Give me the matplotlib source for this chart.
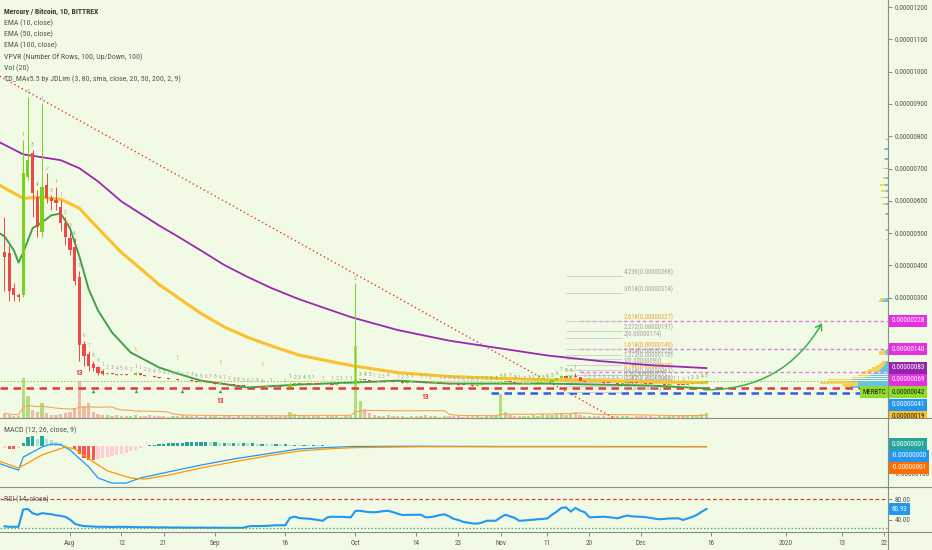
"""Mercury / Bitcoin daily chart in the TradingView look, rebuilt with matplotlib."""

import matplotlib

matplotlib.use("Agg")
import matplotlib.dates as mdates
import matplotlib.pyplot as plt
import numpy as np
import pandas as pd
from matplotlib import font_manager
from matplotlib.lines import Line2D
from matplotlib.patches import FancyArrowPatch
from matplotlib.transforms import Bbox, TransformedBbox, blended_transform_factory

SAT = 1e-8  # every price below is in satoshi

# ---------------- data ----------------
first_day = "2019-07-18"

early_open = [443, 437, 329, 307, 307, 673, 747, 611, 502, 648, 608, 602, 580, 530, 484, 456, 363, 158, 127, 96, 84, 74]
early_high = [549, 462, 344, 316, 788, 921, 757, 633, 902, 685, 617, 642, 602, 549, 508, 484, 384, 167, 136, 105, 90, 78]
early_low = [322, 291, 291, 291, 301, 664, 549, 487, 487, 592, 571, 571, 508, 462, 431, 338, 105, 90, 74, 74, 62, 60]
early_close = [425, 322, 307, 301, 685, 726, 623, 518, 642, 608, 598, 592, 530, 487, 447, 353, 152, 121, 90, 81, 68, 65]

late_close = [
    66, 63, 62, 64, 60, 61, 66, 62, 58, 56, 55, 52,
    50, 47, 49, 45, 44, 46, 42, 40, 41, 38, 39,
    34, 35, 32, 31, 30, 28, 27, 26, 27, 25,
    24, 26, 23, 25, 24, 23,
    32, 36, 34, 35, 33, 35, 34, 32, 33, 31, 33, 34, 32, 33,
    44, 47, 45, 43, 40, 41, 39, 42, 40, 38,
    37, 39, 41, 38, 40, 37, 36, 38, 35, 36,
    34, 33, 31, 30, 29, 28, 30, 32, 33, 32, 33,
    40, 42, 38, 35, 33, 34, 35, 36, 37, 38,
    39, 44, 50, 58, 52, 57, 54, 42, 38, 39,
    38, 39, 37, 36, 35, 34, 36, 38, 37, 36,
    35, 34, 33, 32, 33, 31, 32, 33, 31, 30, 33, 35, 37, 40, 42,
]
big_wicks = {"2019-10-01": 344, "2019-09-17": 40, "2019-11-14": 62, "2019-11-17": 68, "2019-08-15": 70}

volume = [
    4, 3, 2, 2,
    40, 22, 8, 6, 15,
    5, 3, 3, 4, 5, 6,
    10, 37, 12, 15, 6, 4, 3,
    3, 2, 3, 2, 2, 2, 3, 2, 2, 3, 2, 2, 2, 1, 2, 2, 3, 2, 2, 2, 1, 2, 2,
    2, 1, 2, 2, 1, 2, 2, 1, 2, 2, 1, 2, 2, 1, 2, 2,
    6, 4, 2, 2, 3, 2, 2, 1, 2, 2, 2, 1, 2, 2,
    72, 17, 9, 5, 3,
    2, 2, 3, 2, 2, 2, 1, 2, 2, 2, 3, 2, 2, 1, 2, 2, 2, 2, 1, 2, 2, 2, 1, 2, 2, 3,
    24, 6, 3, 2, 2, 2, 2, 3, 2, 4, 3, 3, 4, 5, 3, 4, 6, 3, 2, 2,
    2, 2, 2, 1, 2, 2, 2, 2, 1, 2, 2, 2, 2, 1, 2, 2, 2, 2, 2, 2, 3, 3, 3, 4, 5,
]

rsi = [
    28, 27, 27, 27, 60, 61, 53, 50, 53, 52, 51, 49, 48, 46, 41, 33, 30, 28.5, 28, 27.5, 27, 27,
    27, 26.5, 27, 26.8, 27, 26.5, 26.5, 26.3,
    26, 26.3, 26, 25.8, 26, 25.7, 25.5, 25.8, 25.5, 25.6,
    25.5, 25.4, 25.7, 25.3, 25.2, 25.5, 25.1, 25.3, 25, 25.2,
    25, 25.3, 27.5, 28.6, 28.3, 28.5, 28.8, 29.5, 30, 29.8,
    30, 44, 46.5, 43.5, 43, 42.5, 41.3, 40, 38.5, 45,
    46.3, 46, 46, 45.5, 45, 57.5, 57.5, 56, 55, 54.7,
    55.5, 57, 57.5, 55, 52, 49.5, 49.7, 50, 50, 50,
    45, 45.5, 47, 49.5, 50.9, 47, 42, 40, 36.5, 35,
    33.5, 33, 35, 38.5, 38.7, 38.7, 45, 50, 47, 44,
    38.5, 39, 40, 40.5, 41.5, 42, 43, 50, 56, 63,
    64, 56, 63, 58, 54.7, 45, 45.5, 46, 46.3, 45.5,
    44.5, 43.2, 46, 48.5, 47, 46.5, 46, 45.5, 44, 42.5,
    41.3, 42, 43, 43, 43.2, 40, 43, 46, 50, 56, 60.93,
]

macd_hist = [
    -6, -8, -9, -7,
    12, 36, 38, 30, 38,
    30, 24, 18, 12, 7, 2,
    -10, -28, -42, -50, -52,
    -49, -45, -41, -37, -33, -28, -23, -18, -12, -6,
    2, 4, 6, 8, 10, 12, 13, 14, 15, 16,
    16, 16, 17, 17, 16, 16,
    15, 15, 14, 14, 13, 13, 12, 12, 11, 11, 10, 9, 9, 8, 8, 7, 7, 6, 6, 5,
    5, 4, 4, 3, 3, 3, 2, 2, 2, 2, 3, 3, 2, 2, 2,
    2, 2, 1.5, 1.5, 1, 1, 1, 1, 1, 1,
    1, 1.5, 1.5, 1, 1, 1, 0.5, 0.5, 0.5, 1,
    1, 1, 1, 1.5, 1.5, 1, 1, 1, 1, 1,
    1.5, 2, 2, 1.5, 1, 1, 1, 1, 0.5, 0.5,
    0.5, 0.5, 1, 1, 1.5, 1.5, 2, 1.5, 1, 1,
    1, 1, 0.5, 0.5, 0.5, 0.5, 0.5, 0.5, 0.5, 0.5,
    0.5, 0.5, 0.5, 0.5, 0.5, 0.5, 1, 1, 1, 1,
]

macd_dates = ["2019-07-17", "2019-07-21", "2019-07-22", "2019-07-24", "2019-07-26", "2019-07-28",
              "2019-07-30", "2019-08-01", "2019-08-05", "2019-08-07", "2019-08-10", "2019-08-13",
              "2019-08-16", "2019-08-22", "2019-08-29", "2019-09-05", "2019-09-12", "2019-09-19",
              "2019-09-26", "2019-10-01", "2019-10-15", "2019-11-01", "2019-11-20", "2019-12-15"]
macd_line = [-65, -89, -40, -21, -2, 9, 7, -13, -77, -119, -138, -138, -119, -96, -70, -47, -28, -9,
             -3, 0, 1, 0, 0, -0.4]
signal_dates = ["2019-07-17", "2019-07-21", "2019-07-23", "2019-07-26", "2019-07-31", "2019-08-02",
                "2019-08-06", "2019-08-09", "2019-08-14", "2019-08-17", "2019-08-22", "2019-08-29",
                "2019-09-05", "2019-09-12", "2019-09-19", "2019-09-26", "2019-10-01", "2019-10-15",
                "2019-11-15", "2019-12-15"]
signal_line = [-56, -81, -62, -32, -2, -9, -58, -92, -119, -123, -108, -81, -58, -36, -17, -8, -4, -1, -1, -1]

ema_dates = ["2019-07-17", "2019-07-22", "2019-07-26", "2019-07-30", "2019-08-03", "2019-08-07",
             "2019-08-12", "2019-08-16", "2019-08-20", "2019-08-24", "2019-08-29", "2019-09-03",
             "2019-09-08", "2019-09-13", "2019-09-19", "2019-09-30", "2019-10-10", "2019-10-21",
             "2019-11-01", "2019-11-11", "2019-11-22", "2019-12-03", "2019-12-15"]
ema100 = [781, 744, 735, 726, 701, 660, 598, 561, 524, 490, 446, 401, 364, 330, 295, 240, 200, 167,
          143, 121, 104, 91, 82]
ema50 = [648, 608, 611, 605, 577, 515, 440, 391, 341, 301, 251, 209, 177, 151, 122, 90, 68, 56,
         50, 46, 43, 40, 37]
ema10_dates = ["2019-07-17", "2019-07-18", "2019-07-20", "2019-07-21", "2019-07-22", "2019-07-24",
               "2019-07-26", "2019-07-28", "2019-07-30", "2019-08-01", "2019-08-03", "2019-08-05",
               "2019-08-07", "2019-08-10", "2019-08-14", "2019-08-16", "2019-08-20", "2019-08-24",
               "2019-08-29", "2019-09-08", "2019-09-19", "2019-09-30", "2019-10-10", "2019-10-21",
               "2019-11-01", "2019-11-11", "2019-11-22", "2019-12-03", "2019-12-15"]
ema10 = [499, 490, 447, 409, 440, 515, 533, 555, 561, 515, 428, 326, 260, 192, 130, 115, 84, 65, 43,
         22, 31, 37, 43, 34, 34, 34, 31, 28, 19]

# volume profile rows: price, up volume, down volume
vp_price = [23, 29, 35, 41, 47, 53, 59, 65, 71, 77, 83, 89, 95, 101, 125, 131, 137, 290, 296, 480,
            510, 560, 590, 610, 630, 650, 670, 700, 730, 760, 790]
vp_up = [38, 30, 30, 38, 36, 22, 18, 14, 10, 8, 6, 4, 3, 2, 2, 3, 2, 6, 3, 0,
         1, 2, 2, 3, 2, 3, 2, 3, 3, 3, 2]
vp_down = [6, 16, 38, 22, 24, 14, 12, 14, 14, 12, 10, 8, 6, 4, 7, 6, 4, 3, 5, 2,
           2, 1, 3, 4, 5, 5, 3, 2, 1, 1, 1]

fib_ratios = ["4.236", "3.618", "2.618", "2.272", "2", "1.618", "1.414", "1.272", "1", "0.786",
              "0.618", "0.5", "0.382", "0.236", "0"]
fib_prices = [368, 314, 227, 197, 174, 140, 122, 110, 93, 75, 61, 51, 40, 28, 8]
fib_hot = ["2.618", "1.618", "0.786"]
fib_span = ["2019-11-15", "2019-11-27"]

magenta_levels = [228, 140, 69]
magenta_start = "2019-11-18"
red_support = 21
blue_support = 6
blue_start = "2019-10-30"
trend_dates = ["2019-07-17", "2019-11-25"]
trend_prices = [986, -71]
arrow_dates = ["2019-12-14", "2020-01-09"]
arrow_prices = [15, 229]

td13_dates = ["2019-08-03", "2019-09-02", "2019-10-16"]
td13_prices = [68, -19, -9]
td1_dates = ["2019-08-15", "2019-08-24", "2019-09-02", "2019-09-11"]
td1_prices = [136, 112, 96, 90]
buy_arrow_dates = ["2019-08-06", "2019-08-15", "2019-08-25", "2019-09-02"]

tick_dates = ["2019-08-01", "2019-08-12", "2019-08-21", "2019-09-01", "2019-09-16", "2019-10-01",
              "2019-10-14", "2019-10-23", "2019-11-01", "2019-11-11", "2019-11-20", "2019-12-01",
              "2019-12-16", "2020-01-01", "2020-01-13", "2020-01-22"]
tick_labels = ["Aug", "12", "21", "Sep", "16", "Oct", "14", "23", "Nov", "11", "20", "Dec", "16",
               "2020", "13", "22"]

title = "Mercury / Bitcoin, 1D, BITTREX"
study_names = ["EMA (10, close)", "EMA (50, close)", "EMA (100, close)",
               "VPVR (Number Of Rows, 100, Up/Down, 100)", "Vol (20)",
               "TD_MAv5.5 by JDLim (3, 80, sma, close, 20, 50, 200, 2, 9)"]

# ---------------- style ----------------
BG = "#f1fae4"
GRID_LINE = "#8c8c8c"
TXT = "#555555"
GREEN = "#77d21b"
RED = "#ef4646"

names = {f.name for f in font_manager.fontManager.ttflist}
narrow_fonts = ["Liberation Sans Narrow", "Roboto Condensed", "DejaVu Sans Condensed",
                "Open Sans Condensed", "Noto Sans Condensed", "Arial Narrow", "Liberation Sans"]
FONT = next((f for f in narrow_fonts if f in names), "DejaVu Sans")
plt.rcParams["font.family"] = [FONT, "DejaVu Sans"]

W, H = 932, 550
AXIS_X = 888
PX_PER_DAY = 4.68


def dn(dates):
    return mdates.date2num(pd.to_datetime(dates))


def pane(top, bottom):
    return [0, 1 - bottom / H, AXIS_X / W, (bottom - top) / H]


# ---------------- derived series ----------------
n = len(early_close) + len(late_close)
days = pd.date_range(first_day, periods=n, freq="D")
x = mdates.date2num(days)
close = np.array(early_close + late_close, float)
open_ = np.concatenate([early_open, close[len(early_close) - 1:-1]])
high = np.maximum(open_, close)
low = np.minimum(open_, close)
high[: len(early_high)] = early_high
low[: len(early_low)] = early_low
for day, value in big_wicks.items():
    high[days == pd.Timestamp(day)] = value
volume = np.array(volume, float)
vol_ma = pd.Series(volume).rolling(20, min_periods=1).mean()

x_left = dn(["2019-08-01"])[0] - 70 / PX_PER_DAY
x_right = x_left + AXIS_X / PX_PER_DAY

fig = plt.figure(figsize=(W / 100, H / 100), dpi=100)
fig.patch.set_facecolor(BG)
renderer = fig.canvas.get_renderer()


def fit_size(sample, target_px, **kw):
    """Font size that makes `sample` as wide as it is in the screenshot."""
    t = fig.text(0, 0, sample, fontsize=10, **kw)
    w = t.get_window_extent(renderer).width
    t.remove()
    return 10 * target_px / w


AX_FS = fit_size("0.00001200", 33)
LEG_FS = fit_size(study_names[3], 138)
TITLE_FS = fit_size(title, 96, fontweight="bold")
FIB_FS = fit_size("4.236(0.00000368)", 50)

ax = fig.add_axes(pane(0, 417.5))
ax_vol = fig.add_axes(pane(0, 417.5), sharex=ax)
ax_vp = fig.add_axes(pane(0, 417.5), sharey=ax)
ax_macd = fig.add_axes(pane(417.5, 487), sharex=ax)
ax_rsi = fig.add_axes(pane(487, 532), sharex=ax)

ax_vol.set_zorder(0)
ax_vp.set_zorder(0.5)
ax.set_zorder(1)
ax.patch.set_alpha(0)
ax_vp.patch.set_alpha(0)
for a in (ax_vol, ax_macd, ax_rsi):
    a.set_facecolor(BG)
for a in (ax, ax_vol, ax_vp, ax_macd, ax_rsi):
    for s in a.spines.values():
        s.set_visible(False)

ax.set_xlim(x_left, x_right)
ax.set_ylim(-71 * SAT, 1222 * SAT)

# ---------------- volume + profile ----------------
up_day = close >= open_
ax_vol.bar(x, volume, width=0.7, color=np.where(up_day, "#9ed45a", "#f2a48f"), alpha=0.75, linewidth=0)
ax_vol.plot(x, vol_ma, color="#f5a35a", lw=0.8)
ax_vol.set_ylim(0, volume.max() * 5.8)
ax_vol.set_yticks([])
ax_vol.tick_params(axis="x", bottom=False, labelbottom=False)

vp_up = np.array(vp_up, float)
vp_down = np.array(vp_down, float)
vp_p = np.array(vp_price) * SAT
ax_vp.barh(vp_p, vp_up, height=5 * SAT, left=0, color="#3fb6f0", alpha=0.8, linewidth=0)
ax_vp.barh(vp_p, vp_down, height=5 * SAT, left=vp_up, color="#fbc93a", alpha=0.85, linewidth=0)
ax_vp.set_xlim((vp_up + vp_down).max() * 13.0, 0)
ax_vp.set_xticks([])
ax_vp.tick_params(axis="y", left=False, labelleft=False, right=False)

# ---------------- drawings ----------------
ax.plot(dn(trend_dates), np.array(trend_prices) * SAT, color="#e53935", lw=1.0, ls=(0, (1, 2)), zorder=2)
ax.axhline(red_support * SAT, color="#e53935", lw=1.8, dashes=(3, 2.2), zorder=2)
ax.hlines(blue_support * SAT, dn([blue_start])[0], x_right, color="#2f5bf2", lw=1.8,
          linestyles=(0, (3, 2.2)), zorder=2)
ax.axhline(close[-1] * SAT, color="#9ccc65", lw=0.8, ls=(0, (1.5, 1.5)), zorder=2)
ax.hlines(np.array(magenta_levels) * SAT, dn([magenta_start])[0], x_right, color="#e07be0", lw=1.0,
          linestyles=(0, (2.5, 2)), zorder=2)

fx0, fx1 = dn(fib_span)
ax.hlines(np.array(fib_prices) * SAT, fx0, fx1, color="#c9c9c9", lw=0.6, zorder=2)
for ratio, price in zip(fib_ratios, fib_prices):
    ax.annotate(f"{ratio}({price * SAT:.8f})", (fx1, price * SAT), xytext=(1, 2.5),
                textcoords="offset points", ha="left", va="center", fontsize=FIB_FS,
                color="#f2a33a" if ratio in fib_hot else "#a3a3a3", zorder=3)

# ---------------- EMAs ----------------
ax.plot(dn(ema_dates), np.array(ema100) * SAT, color="#9c27b0", lw=1.3, zorder=5)
ax.plot(dn(ema_dates), np.array(ema50) * SAT, color="#fbc02d", lw=2.2, zorder=5)
ax.plot(dn(ema10_dates), np.array(ema10) * SAT, color="#43a047", lw=1.4, zorder=5)

# ---------------- candles ----------------
colors = np.where(up_day, GREEN, RED)
ax.vlines(x, low * SAT, high * SAT, colors=colors, lw=0.7, zorder=6)
body = np.maximum(np.abs(close - open_), 2) * SAT
ax.bar(x, body, bottom=np.minimum(open_, close) * SAT, width=0.68, color=colors, linewidth=0, zorder=7)

# TD setup counts
buy = sell = 0
for i in range(n):
    if i >= 4 and close[i] < close[i - 4]:
        buy, sell = buy % 9 + 1, 0
    elif i >= 4 and close[i] > close[i - 4]:
        buy, sell = 0, sell % 9 + 1
    else:
        buy = sell = 0
    count = buy or sell
    if count:
        ax.annotate(str(count), (x[i], high[i] * SAT), xytext=(0, 2), textcoords="offset points",
                    ha="center", va="bottom", fontsize=AX_FS * 0.8,
                    color="#a8a8a8" if buy else "#7cb342", zorder=8)

for d, p in zip(td13_dates, td13_prices):
    ax.text(dn([d])[0], p * SAT, "13", color="#e53935", fontsize=AX_FS * 1.05, fontweight="bold",
            ha="center", va="center", zorder=8)
for d, p in zip(td1_dates, td1_prices):
    ax.text(dn([d])[0], p * SAT, "1", color="#f5a742", fontsize=AX_FS, ha="center", va="center", zorder=8)
ax.scatter(dn(buy_arrow_dates), np.full(len(buy_arrow_dates), 12 * SAT), marker="^", s=6,
           color="#2e9e3a", zorder=8, linewidths=0)

arrow = FancyArrowPatch((dn([arrow_dates[0]])[0], arrow_prices[0] * SAT),
                        (dn([arrow_dates[1]])[0], arrow_prices[1] * SAT),
                        connectionstyle="arc3,rad=0.3", arrowstyle="->,head_length=4,head_width=2.5",
                        color="#3fae4f", lw=1.1, zorder=9)
ax.add_patch(arrow)

# ---------------- MACD ----------------
hist = np.array(macd_hist, float)
prev = np.concatenate([[hist[0]], hist[:-1]])
hcol = np.where(hist >= 0, np.where(hist >= prev, "#26a69a", "#b2dfdb"),
                np.where(hist < prev, "#ff5252", "#ffcdd2"))
ax_macd.bar(x, hist * SAT, width=0.7, color=hcol, linewidth=0)
ax_macd.plot(dn(macd_dates), np.array(macd_line) * SAT, color="#2196f3", lw=0.9)
ax_macd.plot(dn(signal_dates), np.array(signal_line) * SAT, color="#ff9800", lw=0.9)
ax_macd.set_ylim(-152.8 * SAT, 109.4 * SAT)
ax_macd.set_yticks([-100 * SAT])
ax_macd.set_yticklabels(["-0.00000100"])

# ---------------- RSI ----------------
ax_rsi.plot(x, rsi, color="#2196f3", lw=1.5)
ax_rsi.axhline(80, color="#e53935", lw=0.9, ls=(0, (3, 2)))
ax_rsi.axhline(25, color="#4caf50", lw=0.9, ls=(0, (1.2, 1.6)))
ax_rsi.set_ylim(17.1, 102.9)
ax_rsi.set_yticks([80, 40])
ax_rsi.set_yticklabels(["80.00", "40.00"])

# ---------------- axes ----------------
price_ticks = np.arange(300, 1201, 100) * SAT
ax.set_yticks(price_ticks)
ax.set_yticklabels([f"{v:.8f}" for v in price_ticks])
for a in (ax, ax_macd, ax_rsi):
    a.yaxis.tick_right()
    a.tick_params(axis="y", length=3, width=0.6, color="#777777", labelsize=AX_FS,
                  labelcolor=TXT, pad=2)
for a in (ax, ax_macd):
    a.tick_params(axis="x", bottom=False, labelbottom=False)
ax_rsi.set_xticks(dn(tick_dates))
ax_rsi.set_xticklabels(tick_labels)
ax_rsi.tick_params(axis="x", length=3, width=0.6, color="#777777", labelsize=AX_FS,
                   labelcolor=TXT, pad=2.5)

# pane separators and price scale line
for y_px in (417.5, 487, 532):
    fig.add_artist(Line2D([0, 1], [1 - y_px / H] * 2, color=GRID_LINE, lw=0.8))
fig.add_artist(Line2D([AXIS_X / W] * 2, [0, 1], color=GRID_LINE, lw=0.8))


# ---------------- price tags ----------------
def price_tag(axis, y, text, face, fg="white", clip=None):
    trans = blended_transform_factory(axis.transAxes, axis.transData)
    t = axis.text(1 + 3.5 / AXIS_X, y, text, transform=trans, ha="left", va="center", fontsize=AX_FS,
                  color=fg, zorder=30, clip_on=False,
                  bbox=dict(boxstyle="square,pad=0.35", fc=face, ec="none"))
    if clip is not None:
        t.set_clip_path(None)
        t.set_clip_box(clip)
        t.set_clip_on(True)
    return t


main_clip = TransformedBbox(Bbox([[0, 1 - 417.5 / H], [1, 1]]), fig.transFigure)
price_tag(ax, 228 * SAT, "0.00000228", "#e52fe0", clip=main_clip)
price_tag(ax, 140 * SAT, "0.00000140", "#e52fe0", clip=main_clip)
price_tag(ax, 83 * SAT, "0.00000083", "#9224ad", clip=main_clip)
price_tag(ax, 46.5 * SAT, "0.00000069", "#e52fe0", clip=main_clip)
price_tag(ax, 7.8 * SAT, "0.00000042", "#8fdc2a", fg="#1e1e1e", clip=main_clip)
price_tag(ax, -31 * SAT, "0.00000041", "#2196f3", clip=main_clip)
price_tag(ax, -68 * SAT, "0.00000019", "#f9c22b", fg="#1e1e1e", clip=main_clip)
ax.text(1 - 1.5 / AXIS_X, 7.8 * SAT, "MERBTC", transform=blended_transform_factory(ax.transAxes, ax.transData),
        ha="right", va="center", fontsize=AX_FS, color="#1e1e1e", zorder=30, clip_on=False,
        bbox=dict(boxstyle="square,pad=0.35", fc="#8fdc2a", ec="none"))

price_tag(ax_macd, 9.4 * SAT, "0.00000001", "#26a69a")
price_tag(ax_macd, -35.8 * SAT, "-0.00000000", "#2196f3")
price_tag(ax_macd, -81 * SAT, "-0.00000001", "#ff6d00")
price_tag(ax_rsi, 60.93, "60.93", "#2196f3")

# ---------------- legends ----------------
fig.text(4 / W, 1 - 11.5 / H, title, ha="left", va="center", fontsize=TITLE_FS, color="#3a3a3a",
         fontweight="bold")
for k, name in enumerate(study_names):
    fig.text(4 / W, 1 - (23 + 11.3 * k) / H, name, ha="left", va="center", fontsize=LEG_FS, color=TXT)
fig.text(4 / W, 1 - 430 / H, "MACD (12, 26, close, 9)", ha="left", va="center", fontsize=LEG_FS, color=TXT)
fig.text(4 / W, 1 - 499 / H, "RSI (14, close)", ha="left", va="center", fontsize=LEG_FS, color=TXT)

fig.savefig("out.png", dpi=100, facecolor=BG)
